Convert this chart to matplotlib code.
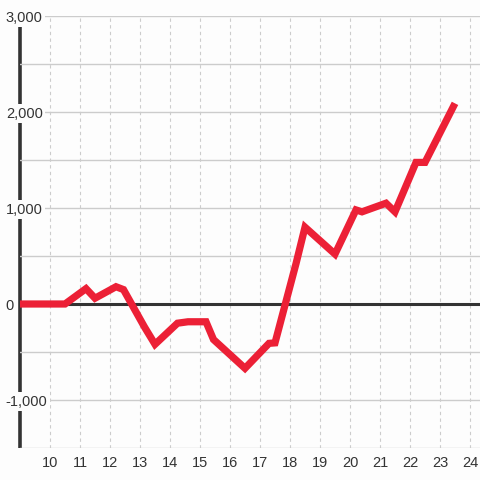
import matplotlib.pyplot as plt
from matplotlib.ticker import MultipleLocator, FuncFormatter

# ---------------------------------------
# Data
# ---------------------------------------

hours = [9.0, 10.5, 11.2, 11.5, 12.2, 12.45, 13.15, 13.5, 14.25, 14.6, 15.2,
         15.45, 16.5, 17.3, 17.5, 18.2, 18.5, 19.5, 20.2, 20.4, 21.2, 21.5,
         22.2, 22.5, 23.5]
values = [0, 0, 160, 60, 180, 150, -240, -420, -200, -185, -185,
          -370, -670, -410, -405, 420, 800, 520, 980, 960, 1050, 960,
          1475, 1475, 2090]

x_ticks = list(range(10, 25))

line_color = "#ec2036"
dark = "#333333"
grid_color = "#cccccc"

# ---------------------------------------
# Plot
# ---------------------------------------

plt.rcParams["font.family"] = ["Liberation Sans", "DejaVu Sans"]

fig = plt.figure(figsize=(4.8, 4.8), dpi=100)
fig.patch.set_facecolor("#fdfdfd")
ax = fig.add_axes([20 / 480, 1 - 448 / 480, 460 / 480, 432 / 480])
ax.set_facecolor("#fdfdfd")

ax.set_xlim(9, 9 + 460 / 30)
ax.set_ylim(-1500, 3000)

for s in ax.spines.values():
    s.set_visible(False)

ax.set_xticks(x_ticks)
ax.yaxis.set_major_locator(MultipleLocator(1000))
ax.yaxis.set_minor_locator(MultipleLocator(500))
ax.yaxis.set_major_formatter(FuncFormatter(lambda v, p: f"{int(v):,}"))

ax.grid(axis="x", color=grid_color, linestyle=(0, (3, 3)), linewidth=0.8)
ax.grid(axis="y", which="both", color=grid_color, linestyle="-", linewidth=1.0)

ax.tick_params(axis="x", length=0, pad=6, labelsize=10.5, labelcolor=dark)
ax.tick_params(axis="y", which="both", length=0, pad=10.2, labelsize=10.5,
               labelcolor=dark)

for lbl in ax.get_yticklabels():
    lbl.set_horizontalalignment("left")
    lbl.set_bbox(dict(facecolor="#fdfdfd", edgecolor="none", pad=1.5))

# layering: grid < left axis line < labels < zero line < data line
ax.xaxis.set_zorder(1.0)
ax.yaxis.set_zorder(1.2)
ax.plot([9, 9], [-1500, 2920], color=dark, linewidth=2.6, zorder=1.1,
        clip_on=False, solid_capstyle="butt")
ax.axhline(0, color=dark, linewidth=2.2, zorder=1.3)

ax.plot(hours, values, color=line_color, linewidth=5.2, zorder=3,
        solid_capstyle="butt", solid_joinstyle="miter")

fig.savefig("out.png", dpi=100, facecolor=fig.get_facecolor())
